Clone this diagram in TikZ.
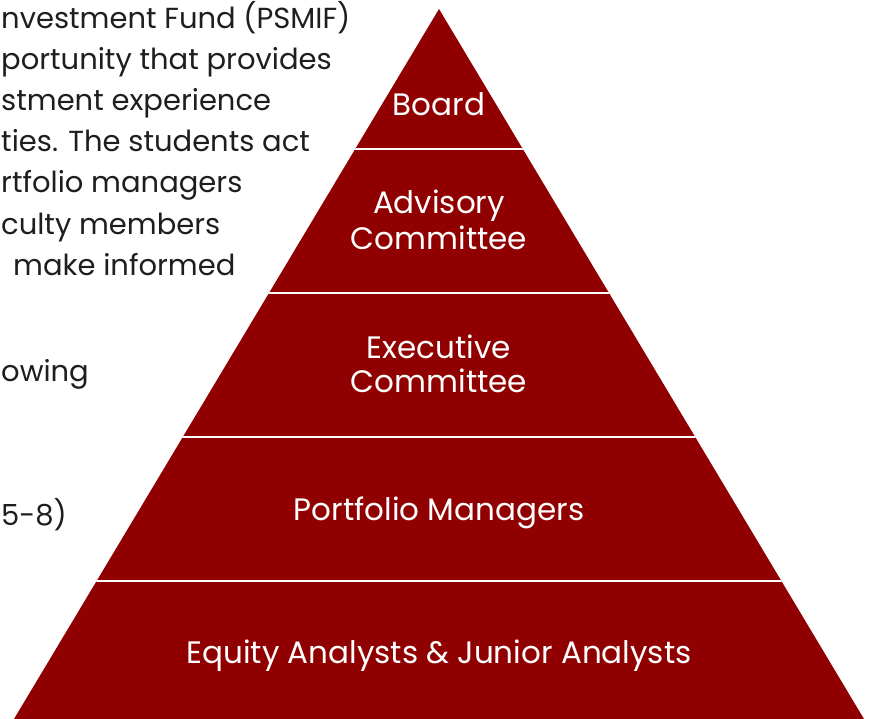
\documentclass[tikz,border=0pt]{standalone}
\usepackage{fontspec}
\setmainfont{Poppins}
\usetikzlibrary{calc}
\definecolor{pyrred}{RGB}{145,0,0}
\definecolor{bodygray}{RGB}{30,30,30}
\tikzset{
  body/.style={anchor=base west, inner sep=0pt, text=bodygray, font=\fontsize{29}{36}\selectfont},
  tier/.style={anchor=base, inner sep=0pt, text=white, font=\fontsize{31}{36}\selectfont},
  sep/.style={white, line width=2.5pt}
}
\begin{document}
\begin{tikzpicture}[x=1pt,y=-1pt]
\useasboundingbox (0,0) rectangle (869,719);
\clip (0,0) rectangle (869,719);
% pyramid
\coordinate (apex) at (439,9);
\coordinate (bl) at (14,719);
\coordinate (br) at (864,719);
\fill[pyrred] (apex) -- (bl) -- (br) -- cycle;
\begin{scope}
\clip (apex) -- (bl) -- (br) -- cycle;
\foreach \yy in {149,293,437,581}{
  \draw[sep] (0,\yy) -- (869,\yy);
}
\end{scope}
% tier labels
\node[tier] (board) at (439,116) {Board};
\node[tier] (adv1) at (439,214) {Advisory};
\node[tier] (adv2) at (439,249) {Committee};
\node[tier] (exe1) at (439,358) {Executive};
\node[tier] (exe2) at (439,392) {Committee};
\node[tier] (pm) at (439,520) {Portfolio Managers};
\node[tier] (eq) at (439,663) {Equity Analysts \& Junior Analysts};
% body text (fragment of a wider column)
\node[body] (l1) at (1,29) {nvestment Fund (PSMIF)};
\node[body] (l2) at (1,70) {portunity that provides};
\node[body] (l3) at (1,111) {stment experience};
\node[body] (l4) at (1,152) {ties. The students act};
\node[body] (l5) at (1,193) {rtfolio managers};
\node[body] (l6) at (1,234) {culty members};
\node[body] (l7) at (13,275) {make informed};
\node[body] (l8) at (1,381) {owing};
\node[body] (l9) at (1,525) {5-8)};
\end{tikzpicture}
\end{document}
